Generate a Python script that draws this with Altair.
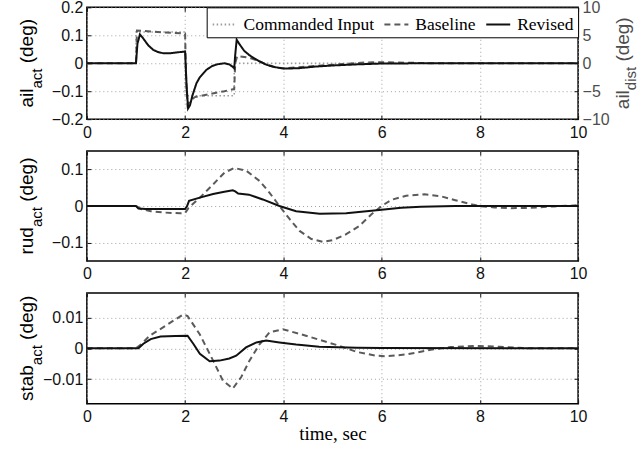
import altair as alt
import pandas as pd

# ---------------- data ----------------
SERIES = ["Commanded Input", "Baseline", "Revised"]
COLORS = ["#9c9c9c", "#5a5a5a", "#111111"]
DASHES = [[1.5, 2.5], [6, 4], [1, 0]]

# top panel: aileron (commanded input on right axis, deg)
ail_cmd_t = [0, 1.0, 1.0, 2.0, 2.0, 3.0, 3.0, 10]
ail_cmd_v = [0, 0, 5.6, 5.6, -5.8, -5.8, 0, 0]

ail_base_t = [0, 1.0, 1.02, 1.3, 1.6, 2.0, 2.02, 2.05, 2.1, 2.2, 2.5, 2.8, 3.0, 3.02, 3.06,
              3.3, 3.5, 3.65, 3.85, 4.0, 4.3, 4.7, 5.2, 5.7, 6.0, 6.5, 7.0, 10]
ail_base_v = [0, 0, 0.117, 0.114, 0.11, 0.106, -0.05, -0.15, -0.135, -0.121, -0.11, -0.1, -0.092, 0.0, 0.026,
              0.02, 0.008, -0.004, -0.015, -0.018, -0.014, -0.009, -0.003, 0.003, 0.004, 0.002, 0.0, 0.0]

ail_rev_t = [0, 1.0, 1.03, 1.08, 1.15, 1.25, 1.35, 1.45, 1.55, 1.7, 1.85, 2.0, 2.03, 2.06, 2.1, 2.15,
             2.23, 2.3, 2.43, 2.55, 2.65, 2.8, 2.9, 2.97, 3.0, 3.02, 3.05, 3.1, 3.2, 3.3, 3.4, 3.5,
             3.65, 3.8, 4.0, 4.3, 4.65, 5.0, 5.5, 6.0, 7.0, 10]
ail_rev_v = [0, 0, 0.07, 0.103, 0.088, 0.064, 0.048, 0.04, 0.036, 0.036, 0.039, 0.042, -0.08, -0.162, -0.15, -0.115,
             -0.072, -0.05, -0.024, -0.01, -0.004, 0.0, -0.004, -0.013, -0.018, 0.03, 0.084, 0.07, 0.045, 0.03, 0.018, 0.008,
             -0.005, -0.013, -0.019, -0.018, -0.012, -0.008, -0.004, -0.001, 0.0, 0.0]

# middle panel: rudder
rud_base_t = [0, 1.0, 1.1, 1.3, 1.6, 1.9, 2.0, 2.07, 2.3, 2.57, 2.8, 3.0, 3.25, 3.52, 3.72, 3.92, 4.13,
              4.33, 4.57, 4.8, 5.01, 5.28, 5.55, 5.8, 6.0, 6.2, 6.5, 6.87, 7.2, 7.5, 7.85, 8.0, 8.3,
              8.6, 9.0, 9.5, 10]
rud_base_v = [0, 0, -0.008, -0.014, -0.018, -0.02, -0.019, -0.005, 0.023, 0.059, 0.091, 0.104, 0.096, 0.068, 0.036, 0.0, -0.036,
              -0.068, -0.09, -0.098, -0.093, -0.077, -0.054, -0.022, 0.0, 0.017, 0.028, 0.032, 0.027, 0.016, 0.004, 0.0, -0.004,
              -0.006, -0.005, -0.001, 0.002]

rud_rev_t = [0, 1.0, 1.05, 1.2, 2.0, 2.04, 2.08, 2.3, 2.57, 2.8, 2.97, 3.02, 3.08, 3.3, 3.58, 3.92,
             4.26, 4.74, 5.28, 5.95, 6.4, 6.8, 7.5, 10]
rud_rev_v = [0, 0, -0.007, -0.008, -0.008, 0.0, 0.014, 0.023, 0.033, 0.039, 0.043, 0.04, 0.034, 0.031, 0.018, 0.0,
             -0.014, -0.021, -0.02, -0.011, -0.005, -0.002, 0.0, 0.0]

# bottom panel: stabilator
stab_base_t = [0, 1.0, 1.1, 1.28, 1.62, 1.96, 2.05, 2.3, 2.57, 2.77, 2.97, 3.14, 3.31, 3.52, 3.72, 3.99,
               4.46, 5.14, 5.5, 5.89, 6.1, 6.5, 7.0, 7.4, 7.9, 8.4, 9.0, 10]
stab_base_v = [0, 0, 0.0012, 0.0041, 0.0075, 0.011, 0.0105, 0.0045, -0.004, -0.0105, -0.0131, -0.0094, -0.004, 0.0014, 0.0052, 0.0062,
               0.0041, 0.0008, -0.0012, -0.0024, -0.0026, -0.002, -0.0005, 0.0004, 0.0008, 0.0005, 0.0, 0.0]

stab_rev_t = [0, 1.05, 1.15, 1.3, 1.5, 1.8, 2.05, 2.17, 2.3, 2.5, 2.7, 2.9, 3.04, 3.24, 3.45, 3.65,
              3.92, 4.26, 4.73, 5.5, 6.0, 10]
stab_rev_v = [0, 0, 0.0015, 0.003, 0.0038, 0.004, 0.0041, 0.0014, -0.0018, -0.0042, -0.004, -0.0033, -0.0024, 0.0003, 0.0019, 0.0025,
              0.0019, 0.0012, 0.0005, 0.0002, 0.0001, 0.0]

x_ticks = [0, 2, 4, 6, 8, 10]
ail_ticks = [-0.2, -0.1, 0, 0.1, 0.2]
ail_dist_ticks = [-10, -5, 0, 5, 10]
rud_ticks = [-0.1, 0, 0.1]
stab_ticks = [-0.01, 0, 0.01]

# ---------------- layout constants ----------------
W = 492
H1, H2, H3 = 112, 110, 111
SANS = "Liberation Sans, Arial, Helvetica, sans-serif"
SERIF = "Liberation Serif, Times New Roman, Times, serif"
RIGHT_GRAY = "#4d4d4d"
FMT = ".3~g"


def frame(t, v, name):
    return pd.DataFrame({"t": t, "v": v, "series": name, "i": list(range(len(t)))})


xscale = alt.Scale(domain=[0, 10], nice=False, zero=False)


def x_enc(orient, title=None, labels=True, grid=True):
    kw = dict(orient=orient, values=x_ticks, labels=labels, grid=grid, offset=-4,
              tickSize=4, labelPadding=5, format=FMT, domain=False, labelFlush=False)
    if title is None:
        kw["title"] = None
    else:
        kw.update(title=title, titleFont=SERIF, titleFontSize=19, titleFontWeight="normal",
                  titleColor="black", titlePadding=0)
    return alt.X("t:Q", scale=xscale, axis=alt.Axis(**kw))


def y_enc(dom, ticks, orient, labels=True, grid=True, color="#111111"):
    return alt.Y("v:Q", scale=alt.Scale(domain=dom, nice=False, zero=False),
                 axis=alt.Axis(orient=orient, values=ticks, labels=labels, grid=grid, offset=-4,
                               tickSize=4, labelPadding=4, format=FMT, title=None, domain=False,
                               labelColor=color, tickColor="#111111", labelFlush=False))


legend = alt.Legend(title=None, orient="none", legendX=120, legendY=0, direction="horizontal",
                    columns=3, strokeColor="black", fillColor="white", padding=4, symbolOffset=1,
                    symbolType="stroke", symbolSize=576, symbolStrokeWidth=2,
                    labelFont=SERIF, labelFontSize=17.5, labelColor="black", labelOffset=6,
                    columnPadding=6, labelLimit=0)
color_enc = alt.Color("series:N", scale=alt.Scale(domain=SERIES, range=COLORS), legend=legend)
dash_enc = alt.StrokeDash("series:N", scale=alt.Scale(domain=SERIES, range=DASHES), legend=legend)

AW = {'a': .556, 'i': .222, 'l': .222, 'r': .333, 'u': .556, 'd': .556, 's': .5, 't': .278,
      'b': .556, 'c': .5, '(': .333, ')': .333, 'e': .556, 'g': .556, ' ': .278}


def tw(s, f):
    return sum(AW[c] for c in s) * f


def ytitle(main, sub, rest, xb, h, color="black", F=19, S=15, shift=9):
    wm, ws, wsp, wr = tw(main, F), tw(sub, S), tw(" ", F), tw(rest, F)
    total = wm + ws + wsp + wr
    y0 = h / 2 + total / 2
    base = alt.Chart(pd.DataFrame({"k": [0]}))
    parts = [(main, xb, y0, F), (sub, xb + shift, y0 - wm, S), (rest, xb, y0 - wm - ws - wsp, F)]
    return [base.mark_text(text=s, angle=270, align="left", baseline="alphabetic", font=SANS,
                           fontSize=fs, color=color).encode(x=alt.value(x), y=alt.value(y))
            for s, x, y, fs in parts]


# ---------------- top panel ----------------
cmd = alt.Chart(frame(ail_cmd_t, ail_cmd_v, "Commanded Input")).mark_line(strokeWidth=1.5).encode(
    x=alt.X("t:Q", scale=xscale, axis=None),
    y=y_enc([-10, 10], ail_dist_ticks, "right", grid=False, color=RIGHT_GRAY),
    color=color_enc, strokeDash=dash_enc, order="i:Q")
b1 = alt.Chart(frame(ail_base_t, ail_base_v, "Baseline")).mark_line(strokeWidth=2).encode(
    x=x_enc("bottom"), y=y_enc([-0.2, 0.2], ail_ticks, "left"),
    color=color_enc, strokeDash=dash_enc, order="i:Q")
r1 = alt.Chart(frame(ail_rev_t, ail_rev_v, "Revised")).mark_line(strokeWidth=2).encode(
    x=x_enc("top", labels=False, grid=False),
    y=alt.Y("v:Q", scale=alt.Scale(domain=[-0.2, 0.2], nice=False, zero=False), axis=None),
    color=color_enc, strokeDash=dash_enc, order="i:Q")
top = alt.layer(cmd, b1, r1, *ytitle("ail", "act", "(deg)", -54, H1),
                *ytitle("ail", "dist", "(deg)", W + 51, H1, color=RIGHT_GRAY, shift=7)
                ).resolve_scale(y="independent").properties(width=W, height=H1)


def panel(bt, bv, rt, rv, dom, ticks, main, h, xtitle=None):
    b = alt.Chart(frame(bt, bv, "Baseline")).mark_line(
        strokeWidth=2, color=COLORS[1], strokeDash=DASHES[1]).encode(
        x=x_enc("bottom", title=xtitle), y=y_enc(dom, ticks, "left"), order="i:Q")
    r = alt.Chart(frame(rt, rv, "Revised")).mark_line(
        strokeWidth=2, color=COLORS[2]).encode(
        x=x_enc("top", labels=False, grid=False),
        y=y_enc(dom, ticks, "right", labels=False, grid=False), order="i:Q")
    return alt.layer(b, r, *ytitle(main, "act", "(deg)", -54, h)).properties(width=W, height=h)


mid = panel(rud_base_t, rud_base_v, rud_rev_t, rud_rev_v, [-0.15, 0.15], rud_ticks, "rud", H2)
bot = panel(stab_base_t, stab_base_v, stab_rev_t, stab_rev_v, [-0.018, 0.018], stab_ticks, "stab", H3,
            xtitle="time, sec")

chart = alt.vconcat(top, mid, bot, spacing=32, bounds="flush").resolve_legend(
    color="independent", strokeDash="independent"
).properties(
    padding={"left": 17, "top": -2, "right": 0, "bottom": 0}
).configure_view(stroke="black", strokeWidth=1.5).configure_axis(
    labelFont=SANS, labelFontSize=16, labelColor="#111111", tickColor="#111111", tickWidth=1,
    gridColor="#a0a0a0", gridDash=[1, 3], gridWidth=1, titleFont=SERIF
)

chart.save("out.html", embed_options={"renderer": "svg", "actions": False})
